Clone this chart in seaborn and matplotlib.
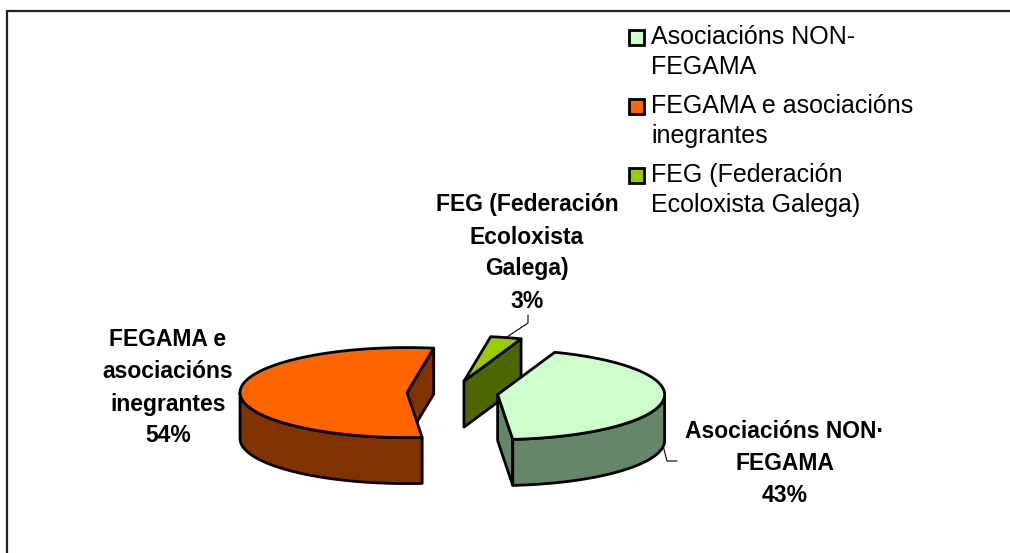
import numpy as np
import matplotlib.pyplot as plt
import seaborn as sns
from matplotlib.patches import Polygon, Rectangle

# data
categories = ["Asociacións NON-FEGAMA",
              "FEGAMA e asociacións inegrantes",
              "FEG (Federación Ecoloxista Galega)"]
legend_labels = ["Asociacións NON-\nFEGAMA",
                 "FEGAMA e asociacións\ninegrantes",
                 "FEG (Federación\nEcoloxista Galega)"]
slice_labels = ["Asociacións NON·\nFEGAMA",
                "FEGAMA e\nasociacións\ninegrantes",
                "FEG (Federación\nEcoloxista\nGalega)"]
values = [43, 54, 3]

top_colors = ["#CCFFCC", "#FF6600", "#99CC00"]
side_colors = ["#66866A", "#803300", "#4D6600"]

sns.set_theme(style="white")
plt.rcParams['font.family'] = ['Liberation Sans', 'DejaVu Sans']

# layout of the 3d pie (pixels)
cx, cy = 452.5, 393
a, b = 167, 45          # ellipse radii
depth = 46
explode = 45.5
start = 70              # first slice starts here, goes clockwise

label_pos = [(785, 463), (168, 388), (527, 253)]
leader_ends = [[(667, 461), (677, 461)], None, [(528, 323), (528, 315)]]

fig = plt.figure(figsize=(10.1, 5.53), dpi=100)
ax = fig.add_axes([0, 0, 1, 1])
ax.set_xlim(0, 1010)
ax.set_ylim(553, 0)
ax.axis('off')

# chart border (left and top edges visible)
ax.plot([7, 7, 1010], [553, 11, 11], color='#222222', lw=1.6, solid_joinstyle='miter')

total = sum(values)
spans = [v / total * 360 for v in values]


def rim(t, ox, oy, z=0.0):
    t = np.radians(t)
    return np.column_stack([ox + a * np.cos(t), oy - b * np.sin(t) + z])


slices = []
hi = start
for i, sp in enumerate(spans):
    lo = hi - sp
    mid = np.radians((hi + lo) / 2)
    ox = cx + explode * np.cos(mid)
    oy = cy - explode * np.sin(mid) * b / a
    slices.append((i, lo, hi, ox, oy))
    hi = lo

# back slices first
slices.sort(key=lambda s: s[4])

lw = 2.0
for i, lo, hi, ox, oy in slices:
    apex = np.array([[ox, oy]])
    # radial faces
    for t, vis in ((lo, np.cos(np.radians(lo)) > 0), (hi, np.cos(np.radians(hi)) < 0)):
        if vis:
            p_top = rim([t], ox, oy)[0]
            p_bot = rim([t], ox, oy, depth)[0]
            quad = [[ox, oy], p_top, p_bot, [ox, oy + depth]]
            ax.add_patch(Polygon(quad, closed=True, facecolor=side_colors[i],
                                 edgecolor='black', lw=lw, joinstyle='round'))
    # outer side, front half only
    for k in (-360, 0, 360):
        f_lo = max(lo, -180 + k)
        f_hi = min(hi, 0 + k)
        if f_hi > f_lo:
            ts = np.linspace(f_lo, f_hi, 200)
            top = rim(ts, ox, oy)
            bot = rim(ts, ox, oy, depth)[::-1]
            ax.add_patch(Polygon(np.vstack([top, bot]), closed=True,
                                 facecolor=side_colors[i], edgecolor='black',
                                 lw=lw, joinstyle='round'))
    # top face
    ts = np.linspace(lo, hi, 300)
    face = np.vstack([apex, rim(ts, ox, oy)])
    ax.add_patch(Polygon(face, closed=True, facecolor=top_colors[i],
                         edgecolor='black', lw=lw, joinstyle='round'))

    # leader line
    if leader_ends[i] is not None:
        mid = (lo + hi) / 2
        z = depth if np.sin(np.radians(mid)) < 0 else 0
        p0 = rim([mid], ox, oy, z)[0]
        pts = np.vstack([p0] + [np.array(p) for p in leader_ends[i]])
        ax.plot(pts[:, 0], pts[:, 1], color='black', lw=0.8)

# data labels
for i in range(len(values)):
    x, y = label_pos[i]
    ax.text(x, y, f"{slice_labels[i]}\n{values[i]}%", ha='center', va='center',
            fontsize=16.5, fontweight='bold', linespacing=1.5, color='black')

# legend
leg_x = 636
leg_y = [37, 106, 175]
for i, lab in enumerate(legend_labels):
    ax.add_patch(Rectangle((leg_x - 7.5, leg_y[i] - 7.5), 15, 15, facecolor=top_colors[i],
                           edgecolor='black', lw=2))
    ax.text(leg_x + 15, leg_y[i] + 15, lab, ha='left', va='center',
            fontsize=18, linespacing=1.3, color='black')

fig.savefig("out.png", dpi=100)
